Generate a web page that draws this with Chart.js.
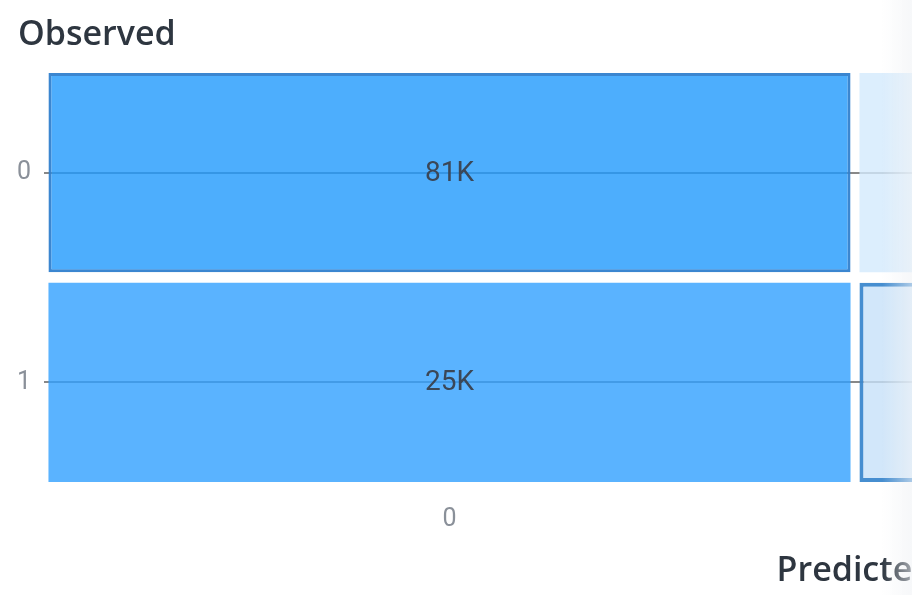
<!DOCTYPE html>
<html>
<head>
<meta charset="utf-8">
<title>Confusion matrix</title>
<script src="https://cdn.jsdelivr.net/npm/chart.js@4/dist/chart.umd.min.js"></script>
<style>
  html, body { margin: 0; padding: 0; background: #fff; overflow: hidden; }
  #viewport { position: relative; width: 912px; height: 595px; overflow: hidden; }
  #wrap { position: absolute; left: 0; top: 0; width: 1700px; height: 595px; }
  #fade {
    position: absolute; top: 0; right: 0; width: 30px; height: 595px; pointer-events: none;
    background: linear-gradient(to right, rgba(255,255,255,0), rgba(240,242,245,0.6));
  }
</style>
</head>
<body>
<div id="viewport">
  <div id="wrap"><canvas id="matrix" width="1700" height="595"></canvas></div>
  <div id="fade"></div>
</div>
<script>
// Class labels on each axis
const predictedLabels = ['0', '1'];
const observedLabels = ['0', '1'];

// Counts per observed class, one entry per predicted class
const observed0Counts = [81000, 4200];
const observed1Counts = [25000, 6800];

// Half of the white gap between rows, in row units
const ROW_GAP = 0.025;

function rowRange(rowIndex) {
  return [rowIndex + ROW_GAP, rowIndex + 1 - ROW_GAP];
}

function formatCount(v) {
  if (v >= 1000) return Math.round(v / 1000) + 'K';
  return String(v);
}

// Writes each cell's count in the middle of its rectangle
const cellLabels = {
  id: 'cellLabels',
  afterDatasetsDraw(chart) {
    const ctx = chart.ctx;
    ctx.save();
    ctx.font = '28px Roboto, "Open Sans", sans-serif';
    ctx.fillStyle = '#3b4757';
    ctx.textAlign = 'center';
    ctx.textBaseline = 'middle';
    chart.data.datasets.forEach((ds, di) => {
      chart.getDatasetMeta(di).data.forEach((bar, i) => {
        const p = bar.getProps(['x', 'y', 'base'], true);
        ctx.fillText(formatCount(ds.counts[i]), p.x, (p.y + p.base) / 2 + 1);
      });
    });
    ctx.restore();
  }
};

const rows = [observed0Counts, observed1Counts];
const fills = [
  ['rgba(33,154,253,0.8)', 'rgba(211,234,253,0.8)'],
  ['rgba(49,160,255,0.8)', 'rgba(199,225,249,0.8)']
];
const borders = [
  ['rgba(48,128,205,0.95)', 'rgba(0,0,0,0)'],
  ['rgba(0,0,0,0)', 'rgba(60,136,205,0.95)']
];
const borderWidths = [[3, 0], [0, 4]];

const datasets = rows.map((counts, r) => ({
  label: 'Observed ' + observedLabels[r],
  data: predictedLabels.map(() => rowRange(r)),
  counts: counts,
  backgroundColor: fills[r],
  borderColor: borders[r],
  borderWidth: borderWidths[r],
  borderSkipped: false,
  grouped: false,
  barPercentage: 0.989,
  categoryPercentage: 1
}));

new Chart(document.getElementById('matrix'), {
  type: 'bar',
  data: { labels: predictedLabels, datasets },
  plugins: [cellLabels],
  options: {
    responsive: false,
    animation: false,
    layout: { padding: { left: 18, right: 34, top: 0, bottom: 0 } },
    plugins: {
      legend: { display: false },
      tooltip: { enabled: false },
      title: {
        display: true,
        text: 'Observed',
        align: 'start',
        color: '#2e3640',
        font: { family: '"Open Sans", Lato, sans-serif', size: 34, weight: '600' },
        padding: { top: 15, bottom: 17.2 }
      }
    },
    scales: {
      x: {
        type: 'category',
        grid: { display: false },
        border: { display: false },
        ticks: {
          color: '#8a9099',
          font: { family: 'Roboto, sans-serif', size: 25 },
          padding: 15
        },
        title: {
          display: true,
          text: 'Predicted',
          color: '#2e3640',
          font: { family: '"Open Sans", Lato, sans-serif', size: 34, weight: '600' },
          padding: { top: 0, bottom: 3 }
        },
        afterFit(scale) { scale.height = 113; }
      },
      y: {
        type: 'linear',
        reverse: true,
        min: ROW_GAP,
        max: observedLabels.length - ROW_GAP,
        afterBuildTicks(scale) {
          scale.ticks = observedLabels.map((_, i) => ({ value: i + 0.5 }));
        },
        ticks: {
          color: '#8a9099',
          font: { family: 'Roboto, sans-serif', size: 25 },
          padding: 13,
          callback: (v) => observedLabels[Math.round(v - 0.5)]
        },
        grid: { color: '#888', lineWidth: 2, drawTicks: false },
        border: { display: false },
        afterFit(scale) { scale.width = 26; }
      }
    }
  }
});
</script>
</body>
</html>
